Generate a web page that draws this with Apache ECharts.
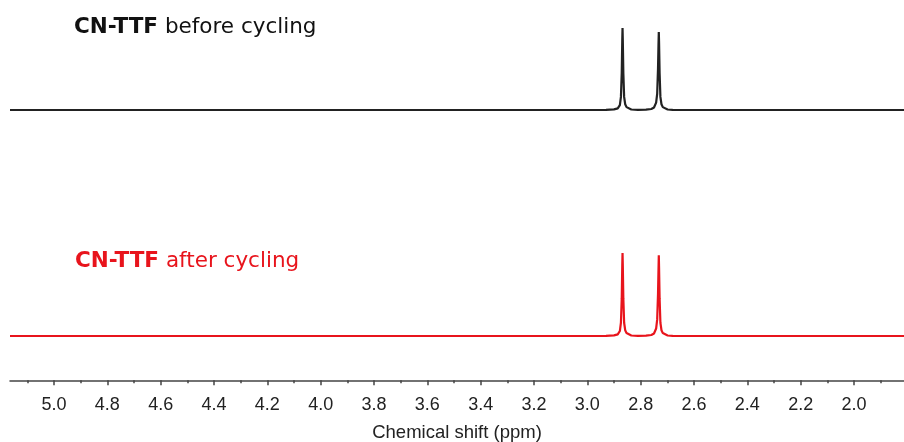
<!DOCTYPE html>
<html>
<head>
<meta charset="utf-8">
<script src="https://cdn.jsdelivr.net/npm/echarts@6/dist/echarts.min.js"></script>
<style>html,body{margin:0;padding:0;background:#fff}#c{width:904px;height:442px}</style>
</head>
<body>
<div id="c"></div>
<script>
// ppm positions and relative intensities
const beforePpm = [5.165, 4.5, 4.0, 3.5, 3.1, 3.0, 2.93, 2.90, 2.886, 2.878, 2.874, 2.871, 2.869, 2.868, 2.867, 2.865, 2.862, 2.858, 2.853, 2.846, 2.835, 2.81, 2.78, 2.76, 2.75, 2.742, 2.738, 2.735, 2.733, 2.732, 2.731, 2.729, 2.726, 2.722, 2.717, 2.710, 2.699, 2.68, 2.64, 2.6, 2.4, 2.0, 1.8125];
const beforeVal = [0, 0, 0, 0, 0, 0, 0.002, 0.007, 0.02, 0.06, 0.16, 0.45, 0.85, 1.0, 0.85, 0.45, 0.16, 0.07, 0.035, 0.016, 0.006, 0.002, 0.004, 0.012, 0.03, 0.09, 0.2, 0.5, 0.82, 0.951, 0.82, 0.45, 0.16, 0.07, 0.035, 0.016, 0.006, 0.002, 0, 0, 0, 0, 0];
const afterPpm = [5.165, 4.5, 4.0, 3.5, 3.11, 3.103, 3.096, 3.04, 3.035, 3.03, 2.93, 2.90, 2.886, 2.878, 2.874, 2.871, 2.869, 2.868, 2.867, 2.865, 2.862, 2.858, 2.853, 2.846, 2.835, 2.81, 2.78, 2.76, 2.75, 2.742, 2.738, 2.735, 2.733, 2.732, 2.731, 2.729, 2.726, 2.722, 2.717, 2.710, 2.699, 2.68, 2.64, 2.56, 2.553, 2.546, 2.4, 2.0, 1.8125];
const afterVal = [0, 0, 0, 0, 0, 0.01, 0, 0, 0.008, 0, 0.002, 0.007, 0.02, 0.06, 0.16, 0.45, 0.85, 1.0, 0.85, 0.45, 0.16, 0.07, 0.035, 0.016, 0.006, 0.002, 0.004, 0.012, 0.03, 0.09, 0.2, 0.5, 0.82, 0.972, 0.82, 0.45, 0.16, 0.07, 0.035, 0.016, 0.006, 0.002, 0, 0, 0.006, 0, 0, 0, 0];
const majorTicks = [5.0, 4.8, 4.6, 4.4, 4.2, 4.0, 3.8, 3.6, 3.4, 3.2, 3.0, 2.8, 2.6, 2.4, 2.2, 2.0];
const minorTicks = [5.1, 4.9, 4.7, 4.5, 4.3, 4.1, 3.9, 3.7, 3.5, 3.3, 3.1, 2.9, 2.7, 2.5, 2.3, 2.1, 1.9];
const xMin = 1.8125, xMax = 5.165;

const pair = (xs, ys) => xs.map((x, i) => [x, ys[i]]);
const FONT = '"Liberation Sans", Arial, sans-serif';
const TFONT = '"DejaVu Sans", sans-serif';
const chart = echarts.init(document.getElementById('c'), null, {renderer: 'canvas'});
const hiddenX = (g) => ({type: 'value', gridIndex: g, min: xMin, max: xMax, inverse: true, show: false});
const hiddenY = (g) => ({type: 'value', gridIndex: g, min: 0, max: 1, show: false});
chart.setOption({
  animation: false,
  backgroundColor: '#fff',
  grid: [
    {left: 10, right: 0, top: 28, bottom: 332},
    {left: 10, right: 0, top: 253, bottom: 106},
    {left: 10, right: 0, top: 380, bottom: 61}
  ],
  xAxis: [
    hiddenX(0), hiddenX(1),
    {type: 'value', gridIndex: 2, min: xMin, max: xMax, inverse: true, position: 'bottom',
     axisLine: {show: true, lineStyle: {color: '#444', width: 1.5}},
     axisTick: {show: true, inside: false, length: 5, lineStyle: {color: '#444', width: 1.5}, customValues: majorTicks},
     axisLabel: {show: true, customValues: majorTicks, margin: 16, color: '#222', fontSize: 18, fontFamily: FONT, formatter: v => v.toFixed(1)},
     splitLine: {show: false},
     name: 'Chemical shift (ppm)', nameLocation: 'middle', nameGap: 43,
     nameTextStyle: {color: '#222', fontSize: 18.5, fontFamily: FONT}},
    {type: 'value', gridIndex: 2, min: xMin, max: xMax, inverse: true, position: 'bottom',
     axisLine: {show: false},
     axisTick: {show: true, length: 3, lineStyle: {color: '#444', width: 1.5}, customValues: minorTicks},
     axisLabel: {show: false}, splitLine: {show: false}}
  ],
  yAxis: [hiddenY(0), hiddenY(1), hiddenY(2)],
  title: [
    {left: 69, top: 11, text: '{b|CN-TTF} before cycling',
     textStyle: {fontSize: 21.5, fontFamily: TFONT, color: '#111', fontWeight: 'normal',
       rich: {b: {fontSize: 21.5, fontFamily: TFONT, fontWeight: 'bold', color: '#111'}}}},
    {left: 70, top: 245, text: '{b|CN-TTF} after cycling',
     textStyle: {fontSize: 21.5, fontFamily: TFONT, color: '#e8141c', fontWeight: 'normal',
       rich: {b: {fontSize: 21.5, fontFamily: TFONT, fontWeight: 'bold', color: '#e8141c'}}}}
  ],
  series: [
    {type: 'line', xAxisIndex: 0, yAxisIndex: 0, data: pair(beforePpm, beforeVal), showSymbol: false,
     lineStyle: {color: '#222', width: 2.2}},
    {type: 'line', xAxisIndex: 1, yAxisIndex: 1, data: pair(afterPpm, afterVal), showSymbol: false,
     lineStyle: {color: '#e8141c', width: 2.2}}
  ]
});
</script>
</body>
</html>
